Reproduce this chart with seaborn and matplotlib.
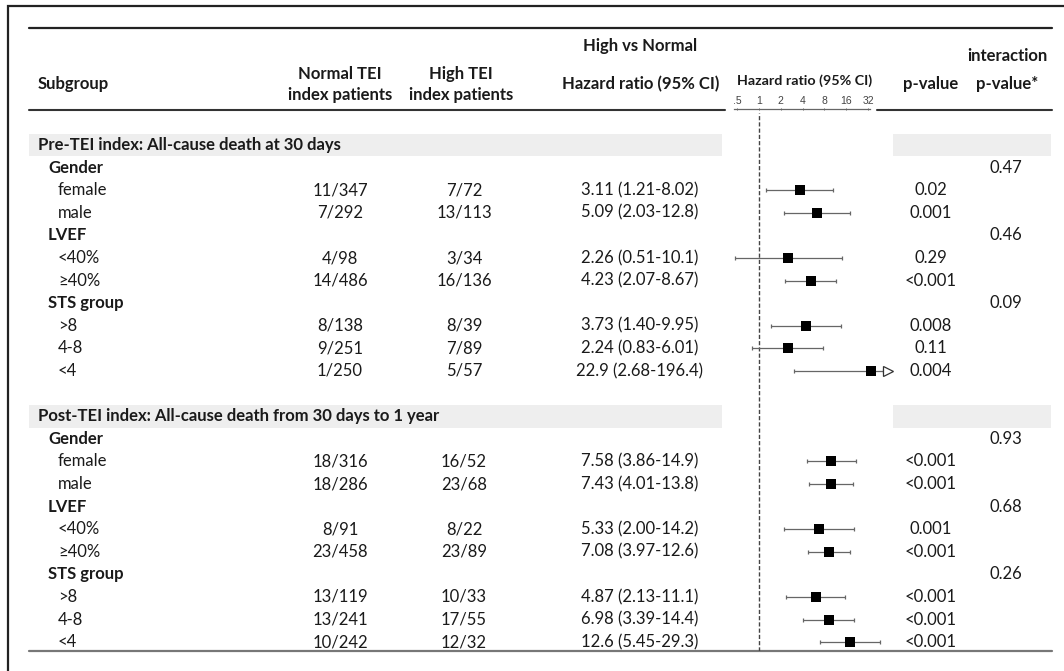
import matplotlib.pyplot as plt
import seaborn as sns
import pandas as pd

sections = ["Pre-TEI index: All-cause death at 30 days",
            "Post-TEI index: All-cause death from 30 days to 1 year"]
categories = ["Gender", "LVEF", "STS group"]
subgroups = [["female", "male"], ["<40%", "≥40%"], [">8", "4-8", "<4"]]

normal_pre = ["11/347", "7/292", "4/98", "14/486", "8/138", "9/251", "1/250"]
high_pre = ["7/72", "13/113", "3/34", "16/136", "8/39", "7/89", "5/57"]
hr_pre = ["3.11", "5.09", "2.26", "4.23", "3.73", "2.24", "22.9"]
lo_pre = ["1.21", "2.03", "0.51", "2.07", "1.40", "0.83", "2.68"]
hi_pre = ["8.02", "12.8", "10.1", "8.67", "9.95", "6.01", "196.4"]
p_pre = ["0.02", "0.001", "0.29", "<0.001", "0.008", "0.11", "0.004"]
pint_pre = ["0.47", "0.46", "0.09"]

normal_post = ["18/316", "18/286", "8/91", "23/458", "13/119", "13/241", "10/242"]
high_post = ["16/52", "23/68", "8/22", "23/89", "10/33", "17/55", "12/32"]
hr_post = ["7.58", "7.43", "5.33", "7.08", "4.87", "6.98", "12.6"]
lo_post = ["3.86", "4.01", "2.00", "3.97", "2.13", "3.39", "5.45"]
hi_post = ["14.9", "13.8", "14.2", "12.6", "11.1", "14.4", "29.3"]
p_post = ["<0.001", "<0.001", "0.001", "<0.001", "<0.001", "<0.001", "<0.001"]
pint_post = ["0.93", "0.68", "0.26"]

axis_ticks = [0.5, 1, 2, 4, 8, 16, 32]
axis_labels = [".5", "1", "2", "4", "8", "16", "32"]

sns.set_theme(style="white")
plt.rcParams['font.family'] = ['Lato', 'DejaVu Sans']

TXT = '#1a1a1a'
FS = 12
ROW0, ROWH = 145, 22.6

def row_y(i):
    return ROW0 + ROWH * i

# build table rows
data = [(normal_pre, high_pre, hr_pre, lo_pre, hi_pre, p_pre, pint_pre),
        (normal_post, high_post, hr_post, lo_post, hi_post, p_post, pint_post)]
rows = []
i = 0
for s, sec in enumerate(sections):
    normal, high, hr, lo, hi, p, pint = data[s]
    rows.append(dict(label=sec, kind='section', row=i))
    i += 1
    k = 0
    for c, cat in enumerate(categories):
        rows.append(dict(label=cat, kind='cat', row=i, pint=pint[c]))
        i += 1
        for sub in subgroups[c]:
            rows.append(dict(label=sub, kind='sub', row=i, normal=normal[k], high=high[k],
                             hr_txt=f"{hr[k]} ({lo[k]}-{hi[k]})", p=p[k],
                             hr=float(hr[k]), lo=float(lo[k]), hi=float(hi[k])))
            k += 1
            i += 1
    i += 1
df = pd.DataFrame(rows)

fig = plt.figure(figsize=(10.64, 6.71), dpi=100)
ax = fig.add_axes([0, 0, 1, 1])
ax.set_xlim(0, 1064)
ax.set_ylim(671, 0)
ax.axis('off')

# frame and rules
ax.plot([8, 8, 1070], [675, 6, 6], color='#222222', lw=1.6, solid_joinstyle='miter')
ax.plot([29, 1052], [28, 28], color='#222222', lw=1.6)
ax.plot([29, 725], [110, 110], color='#333333', lw=1.5)
ax.plot([877, 1052], [110, 110], color='#333333', lw=1.5)
ax.plot([29, 1052], [651, 651], color='#777777', lw=1.6)

# section bands
for r in df[df.kind == 'section'].row:
    y = row_y(r)
    ax.fill_between([29, 722], y - ROWH / 2, y + ROWH / 2, color='#eeeeee', lw=0)
    ax.fill_between([893, 1051], y - ROWH / 2, y + ROWH / 2, color='#eeeeee', lw=0)

# header
hb = dict(fontsize=FS, fontweight='bold', color=TXT, va='center')
ax.text(38, 84, "Subgroup", ha='left', **hb)
ax.text(340, 74, "Normal TEI", ha='center', **hb)
ax.text(340, 95, "index patients", ha='center', **hb)
ax.text(461, 74, "High TEI", ha='center', **hb)
ax.text(461, 95, "index patients", ha='center', **hb)
ax.text(640, 46, "High vs Normal", ha='center', **hb)
ax.text(641, 84, "Hazard ratio (95% CI)", ha='center', **hb)
ax.text(931, 84, "p-value", ha='center', **hb)
ax.text(1007, 56, "interaction", ha='center', **hb)
ax.text(1007, 84, "p-value*", ha='center', **hb)
ax.text(805, 81, "Hazard ratio (95% CI)", ha='center', fontsize=10.3,
        fontweight='bold', color=TXT, va='center')

# table body
for _, r in df.iterrows():
    y = row_y(r.row)
    if r.kind == 'section':
        ax.text(38, y, r.label, ha='left', va='center', fontsize=FS, fontweight='bold', color=TXT)
    elif r.kind == 'cat':
        ax.text(48, y, r.label, ha='left', va='center', fontsize=FS, fontweight='bold', color=TXT)
        ax.text(1006, y, r.pint, ha='center', va='center', fontsize=FS, color=TXT)
    else:
        ax.text(58, y, r.label, ha='left', va='center', fontsize=FS, color=TXT)
        ax.text(340, y, r.normal, ha='center', va='center', fontsize=FS, color=TXT)
        ax.text(464, y, r.high, ha='center', va='center', fontsize=FS, color=TXT)
        ax.text(640, y, r.hr_txt, ha='center', va='center', fontsize=FS, color=TXT)
        ax.text(931, y, r.p, ha='center', va='center', fontsize=FS, color=TXT)

# forest plot (1 at x=759 px, 24.8 px per doubling)
PX1, PXD = 759, 24.8
fl, fr = 728, 895
ytop, ybot = 113, 651
ax_f = fig.add_axes([fl / 1064, (671 - ybot) / 671, (fr - fl) / 1064, (ybot - ytop) / 671])
ax_f.set_xscale('log', base=2)
ax_f.set_xlim(2 ** ((fl - PX1) / PXD), 2 ** ((fr - PX1) / PXD))
ax_f.set_ylim((ybot - ROW0) / ROWH, (ytop - ROW0) / ROWH)
ax_f.axis('off')
ax_f.patch.set_alpha(0)

CAP = 32
fd = df[df.kind == 'sub'].copy()
fd['hi_d'] = fd.hi.clip(upper=CAP)
ax_f.axvline(1, color='#444444', lw=1.0, ls=(0, (3, 1.5)))
ax_f.errorbar(fd.hr, fd.row, xerr=[fd.hr - fd.lo, fd.hi_d - fd.hr], fmt='none',
              ecolor='#666666', elinewidth=0.9, capsize=1.2, capthick=0.9)
sns.scatterplot(data=fd, x='hr', y='row', marker='s', s=52, color='black',
                linewidth=0, ax=ax_f, legend=False, zorder=3)
clipped = fd[fd.hi > CAP]
ax_f.plot([CAP * 1.15] * len(clipped), clipped.row, marker='>', ls='none', ms=7,
          mfc='white', mec='#333333', mew=0.9, zorder=3)

# header axis of the forest column
hl, hr_ = 734, 870
PXD_H = 21.8
ax_h = fig.add_axes([hl / 1064, (671 - 109) / 671 - 0.001, (hr_ - hl) / 1064, 0.001])
ax_h.set_xscale('log', base=2)
ax_h.set_xlim(2 ** ((hl - PX1) / PXD_H), 2 ** ((hr_ - PX1) / PXD_H))
ax_h.set_yticks([])
for sp in ['left', 'right', 'bottom']:
    ax_h.spines[sp].set_visible(False)
ax_h.spines['top'].set_color('#666666')
ax_h.spines['top'].set_linewidth(0.9)
ax_h.xaxis.set_ticks_position('top')
ax_h.set_xticks(axis_ticks)
ax_h.set_xticklabels(axis_labels, family=['Liberation Sans', 'DejaVu Sans'])
ax_h.minorticks_off()
ax_h.tick_params(axis='x', which='major', top=True, bottom=False, labeltop=True,
                 labelbottom=False, direction='inout', length=2, width=0.7,
                 color='#666666', labelsize=7.5, labelcolor='#444444', pad=1.5)
ax_h.patch.set_alpha(0)

fig.savefig("out.png", dpi=100)
